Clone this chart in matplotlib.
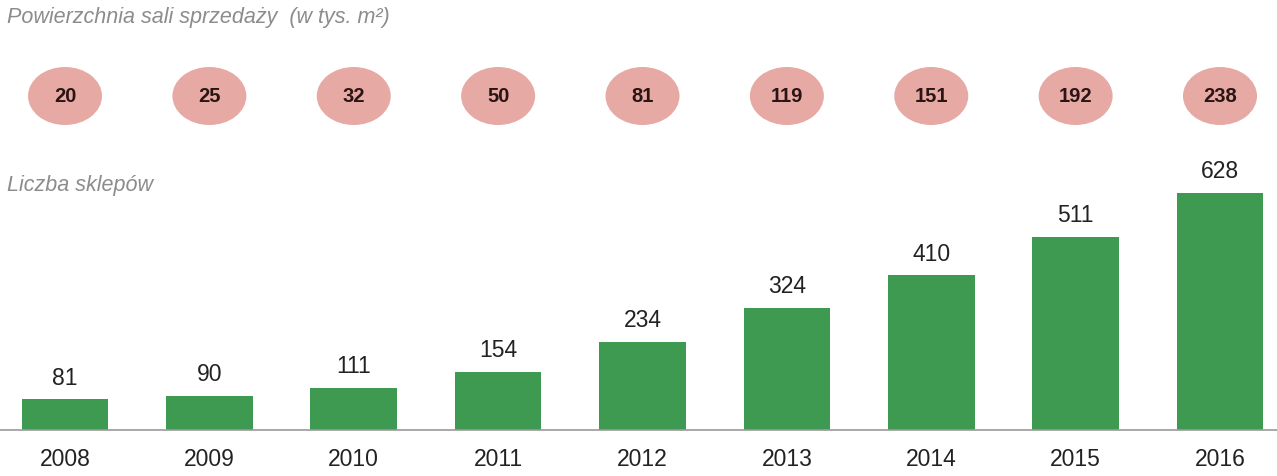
import matplotlib.pyplot as plt
from matplotlib.patches import Ellipse

# Data
years = ["2008", "2009", "2010", "2011", "2012", "2013", "2014", "2015", "2016"]
stores = [81, 90, 111, 154, 234, 324, 410, 511, 628]
area = [20, 25, 32, 50, 81, 119, 151, 192, 238]

plt.rcParams['font.family'] = ['Liberation Sans', 'DejaVu Sans']

fig = plt.figure(figsize=(12.77, 4.76), dpi=100)
H = 476.0
xlim = (-65 / 144.375, (1277 - 65) / 144.375)

# bar chart: baseline at 430 px from top
ax = fig.add_axes([0, 46 / H, 1, 280 / H])
x = range(len(years))
ax.bar(x, stores, width=0.6, color='#3d9a50')
ax.set_xlim(*xlim)
ax.set_ylim(0, 742)
for i, v in zip(x, stores):
    ax.annotate(str(v), (i, v), xytext=(0, 7), textcoords='offset points',
                ha='center', va='bottom', fontsize=16.5, color='#222222')
ax.set_xticks(list(x))
ax.set_xticklabels(years, fontsize=16.5, color='#222222')
ax.tick_params(axis='x', length=0, pad=13)
ax.set_yticks([])
for s in ['top', 'left', 'right']:
    ax.spines[s].set_visible(False)
ax.spines['bottom'].set_color('#999999')
ax.spines['bottom'].set_linewidth(1.2)
ax.patch.set_alpha(0)

# ellipses row
ax2 = fig.add_axes([0, (H - 135) / H, 1, 75 / H])
ax2.set_xlim(*xlim)
ax2.set_ylim(0, 75)
ax2.axis('off')
for i, v in zip(x, area):
    ax2.add_patch(Ellipse((i, 39), 74 / 144.375, 58, color='#e7a9a4', lw=0))
    ax2.text(i, 38, str(v), ha='center', va='center', fontsize=14.5,
             fontweight='bold', color='#2a1515')

fig.text(7 / 1277, 1 - 18 / H, "Powierzchnia sali sprzedaży  (w tys. m²)",
         fontsize=15.5, style='italic', color='#8c8c8c', va='center', ha='left')
fig.text(7 / 1277, 1 - 185 / H, "Liczba sklepów",
         fontsize=15.5, style='italic', color='#8c8c8c', va='center', ha='left')

fig.savefig('out.png', dpi=100)
